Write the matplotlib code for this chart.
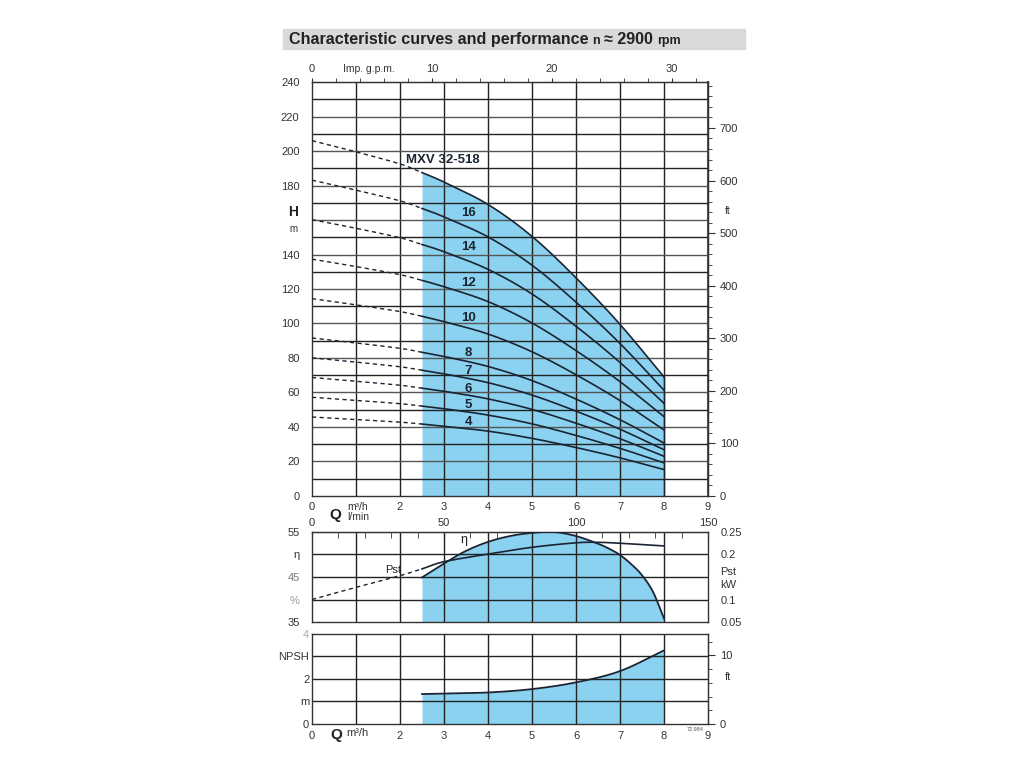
import matplotlib
matplotlib.use('Agg')
import matplotlib.pyplot as plt
import numpy as np

plt.rcParams['font.family'] = ['Liberation Sans', 'DejaVu Sans']

# ---- data ----
q_head = [0, 1, 2, 2.5, 3, 4, 5, 6, 7, 8]          # m3/h
head_18 = [206, 199.5, 192.5, 187.5, 182, 169, 150.5, 126.5, 99.5, 69]
head_16 = [183.1, 177.3, 171.1, 166.7, 161.8, 150.2, 133.8, 112.4, 88.4, 61.3]
head_14 = [160.2, 155.2, 149.7, 145.8, 141.6, 131.4, 117.1, 98.4, 77.4, 53.7]
head_12 = [137.3, 133.0, 128.3, 125.0, 121.3, 112.7, 100.3, 84.3, 66.3, 46.0]
head_10 = [114.4, 110.8, 106.9, 104.2, 101.1, 93.9, 83.6, 70.3, 55.3, 38.3]
head_8 = [91.6, 88.7, 85.6, 83.3, 80.9, 75.1, 66.9, 56.2, 44.2, 30.7]
head_7 = [80.1, 77.6, 74.9, 72.9, 70.8, 65.7, 58.5, 49.2, 38.7, 26.8]
head_6 = [68.7, 66.5, 64.2, 62.5, 60.7, 56.3, 50.2, 42.2, 33.2, 23.0]
head_5 = [57.2, 55.4, 53.5, 52.1, 50.6, 46.9, 41.8, 35.1, 27.6, 19.2]
head_4 = [45.8, 44.3, 42.8, 41.7, 40.4, 37.6, 33.4, 28.1, 22.1, 15.3]
stage_labels = ['4', '5', '6', '7', '8', '10', '12', '14', '16']
label_h = [42.9, 52.8, 62, 72.5, 82.9, 103.2, 123.5, 144.3, 164]

q_eff = [2.5, 3, 3.5, 4, 4.5, 5, 5.5, 6, 6.5, 6.75, 7, 7.25, 7.5, 7.75, 8]
eff = [44.9, 48.0, 50.8, 52.8, 54.1, 54.8, 55.0, 54.1, 52.4, 51.3, 49.9, 47.9, 45.4, 41.7, 35.8]

q_pst = [0, 1, 2, 2.5, 3, 4, 5, 6, 6.5, 7, 8]
pst = [0.100, 0.127, 0.153, 0.168, 0.184, 0.201, 0.216, 0.226, 0.227, 0.225, 0.219]

q_npsh = [2.5, 3, 4, 5, 6, 7, 8]
npsh = [1.33, 1.35, 1.40, 1.55, 1.85, 2.35, 3.27]

blue = '#8AD2F0'
ink = '#1b2433'
grid = '#222222'


def smooth(x, y, n=24):
    # catmull-rom through the read points
    p = np.column_stack([x, y]).astype(float)
    p = np.vstack([2 * p[0] - p[1], p, 2 * p[-1] - p[-2]])
    t = np.linspace(0, 1, n, endpoint=False)[:, None]
    out = []
    for i in range(1, len(p) - 2):
        p0, p1, p2, p3 = p[i - 1], p[i], p[i + 1], p[i + 2]
        out.append(0.5 * (2 * p1 + (-p0 + p2) * t + (2 * p0 - 5 * p1 + 4 * p2 - p3) * t ** 2
                          + (-p0 + 3 * p1 - 3 * p2 + p3) * t ** 3))
    out.append(p[-2][None, :])
    s = np.vstack(out)
    return s[:, 0], s[:, 1]


fig = plt.figure(figsize=(10.24, 7.68), dpi=100)

# title bar
fig.patches.append(plt.Rectangle((0.2764, 0.9362), 0.4511, 0.026, transform=fig.transFigure,
                                 color='#d9d9d9', zorder=0))
title_parts = [('Characteristic curves and performance ', 11.6),
               ('n ', 9), ('\u2248 2900 ', 11.6), ('rpm', 9)]
renderer = fig.canvas.get_renderer()
x0 = 289
for txt, fs in title_parts:
    t = fig.text(x0 / 1024, 0.9425, txt, fontsize=fs, fontweight='bold', color='#222222')
    x0 = t.get_window_extent(renderer).x1

L, W = 0.3047, 0.3867
ax = fig.add_axes([L, 0.3542, W, 0.539])
ax_e = fig.add_axes([L, 0.1901, W, 0.1172])
ax_n = fig.add_axes([L, 0.0573, W, 0.1172])

for a in (ax, ax_e, ax_n):
    a.set_xlim(0, 9)
    for s in a.spines.values():
        s.set_color('#333333')
        s.set_linewidth(1.0)
    a.tick_params(axis='both', length=0, labelsize=8, colors='#333333')
    for q in range(1, 9):
        a.axvline(q, color=grid, lw=1.0, zorder=2)

# ---- main head panel ----
ax.set_ylim(0, 240)
for h in range(10, 240, 10):
    ax.axhline(h, color=grid if h % 20 else '#555555', lw=1.0, zorder=2)

curves = [head_4, head_5, head_6, head_7, head_8, head_10, head_12, head_14, head_16, head_18]
for hv in curves:
    xd, yd = smooth(q_head[:4], hv[:4])
    ax.plot(xd, yd, color=ink, lw=1.0, ls=(0, (3, 2.5)), zorder=4)
    xs, ys = smooth(q_head[3:], hv[3:])
    ax.plot(xs, ys, color=ink, lw=1.2, zorder=4)
    if hv is head_18:
        ax.fill_between(xs, 0, ys, color=blue, lw=0, zorder=1)
        ax.plot([8, 8], [0, ys[-1]], color=ink, lw=1.0, zorder=3)

for lab, h in zip(stage_labels, label_h):
    ax.text(3.55, h, lab, fontsize=9.5, fontweight='bold', color='#1b2433',
            ha='center', va='center', zorder=5)
ax.text(2.14, 194.8, 'MXV 32-518', fontsize=9.5, fontweight='bold', color='#1b2433',
        va='center', zorder=5)

ax.set_yticks([0, 20, 40, 60, 80, 100, 120, 140, 180, 200, 220, 240])
ax.tick_params(axis='y', pad=9)
ax.text(-0.42, 164.6, 'H', fontsize=10, fontweight='bold', ha='center', va='center', color='#222222')
ax.text(-0.42, 154.5, 'm', fontsize=7, ha='center', va='center', color='#333333')
ax.set_xticks([0, 2, 3, 4, 5, 6, 7, 8, 9])
ax.tick_params(axis='x', pad=4)
ax.text(0.52, -7, 'Q', fontsize=11, fontweight='bold', ha='center', va='top', color='#222222')
ax.text(0.8, -3.5, 'm\u00b3/h', fontsize=7.5, ha='left', va='top', color='#333333')
ax.text(0.8, -9.5, 'l/min', fontsize=7.5, ha='left', va='top', color='#333333')

gpm = ax.secondary_xaxis('top', functions=(lambda q: q * 3.666, lambda g: g / 3.666))
gpm.set_xticks([0, 10, 20, 30])
gpm.set_xticks(np.arange(0, 34, 2), minor=True)
gpm.tick_params(which='both', direction='out', length=3, labelsize=8, colors='#333333', pad=3)
gpm.spines['top'].set_color('#333333')
ax.text(1.3, 1.02, 'Imp. g.p.m.', fontsize=7.5, ha='center', va='bottom',
        transform=ax.get_xaxis_transform(), color='#333333')

ft = ax.secondary_yaxis('right', functions=(lambda m: m / 0.3048, lambda f: f * 0.3048))
ft.set_yticks(np.arange(0, 800, 100))
ft.set_yticks(np.arange(0, 790, 20), minor=True)
ft.tick_params(which='major', direction='out', length=5, labelsize=8, colors='#333333')
ft.tick_params(which='minor', direction='out', length=3, colors='#333333')
ft.spines['right'].set_color('#555555')
ft.spines['right'].set_linewidth(1.5)
ax.text(9.45, 165, 'ft', fontsize=7.5, ha='center', va='center', color='#333333')

# ---- efficiency / power panel ----
ax_e.set_ylim(35, 55)
for v in (40, 45, 50):
    ax_e.axhline(v, color=grid, lw=1.0, zorder=2)
xe, ye = smooth(q_eff, eff)
ax_e.fill_between(xe, 35, ye, color=blue, lw=0, zorder=1)
ax_e.plot(xe, ye, color=ink, lw=1.3, zorder=4)
ax_e.set_yticks([35, 40, 45, 50, 55])
ax_e.set_yticklabels(['35', '%', '45', '\u03b7', '55'])
ax_e.get_yticklabels()[1].set_color('#999999')
ax_e.get_yticklabels()[2].set_color('#777777')
ax_e.tick_params(axis='y', pad=9)
ax_e.set_xticks([])
ax_e.text(3.45, 53.3, '\u03b7', fontsize=9, ha='center', va='center', color='#222222', zorder=5)
ax_e.text(1.85, 46.5, 'Pst', fontsize=8, ha='center', va='center', color='#222222', zorder=5)

ax_p = ax_e.twinx()
ax_p.set_ylim(0.05, 0.25)
xp, yp = smooth(q_pst[:4], pst[:4])
ax_p.plot(xp, yp, color=ink, lw=1.0, ls=(0, (3, 2.5)), zorder=4)
xp, yp = smooth(q_pst[3:], pst[3:])
ax_p.plot(xp, yp, color=ink, lw=1.2, zorder=4)
ax_p.set_yticks([0.05, 0.1, 0.2, 0.25])
ax_p.set_yticklabels(['0.05', '0.1', '0.2', '0.25'])
ax_p.tick_params(axis='y', length=0, labelsize=8, colors='#333333', pad=9)
for s in ax_p.spines.values():
    s.set_visible(False)
ax_p.text(9.28, 0.16, 'Pst', fontsize=8, ha='left', va='center', color='#333333')
ax_p.text(9.28, 0.132, 'kW', fontsize=8, ha='left', va='center', color='#333333')

lmin = ax_e.secondary_xaxis('top', functions=(lambda q: q * 1000 / 60, lambda l: l * 60 / 1000))
lmin.set_xticks([0, 50, 100, 150])
lmin.set_xticks(np.arange(0, 151, 10), minor=True)
lmin.tick_params(which='both', direction='in', length=4, labelsize=8, colors='#333333', pad=3)
lmin.spines['top'].set_color('#333333')

# ---- NPSH panel ----
ax_n.set_ylim(0, 4)
for v in (1, 2, 3):
    ax_n.axhline(v, color=grid, lw=1.0, zorder=2)
xn, yn = smooth(q_npsh, npsh)
ax_n.fill_between(xn, 0, yn, color=blue, lw=0, zorder=1)
ax_n.plot(xn, yn, color=ink, lw=1.3, zorder=4)
ax_n.set_yticks([0, 1, 2, 3, 4])
ax_n.set_yticklabels(['0', 'm', '2', 'NPSH', '4'])
ax_n.get_yticklabels()[4].set_color('#aaaaaa')
ax_n.tick_params(axis='y', pad=2)
ax_n.set_xticks([0, 2, 3, 4, 5, 6, 7, 8, 9])
ax_n.tick_params(axis='x', pad=5)
ax_n.text(0.55, -0.16, 'Q', fontsize=11, fontweight='bold', ha='center', va='top', color='#222222')
ax_n.text(0.78, -0.2, 'm\u00b3/h', fontsize=8, ha='left', va='top', color='#333333')
ax_n.text(8.72, -0.12, '72.984', fontsize=4, ha='center', va='top', color='#555555')

nft = ax_n.secondary_yaxis('right', functions=(lambda m: m / 0.3048, lambda f: f * 0.3048))
nft.set_yticks([0, 10])
nft.set_yticks(np.arange(0, 13, 2), minor=True)
nft.tick_params(which='major', direction='out', length=5, labelsize=8, colors='#333333')
nft.tick_params(which='minor', direction='out', length=3, colors='#333333')
nft.spines['right'].set_color('#555555')
ax_n.text(9.45, 2.1, 'ft', fontsize=8, ha='center', va='center', color='#333333')

fig.savefig('out.png', dpi=100)
